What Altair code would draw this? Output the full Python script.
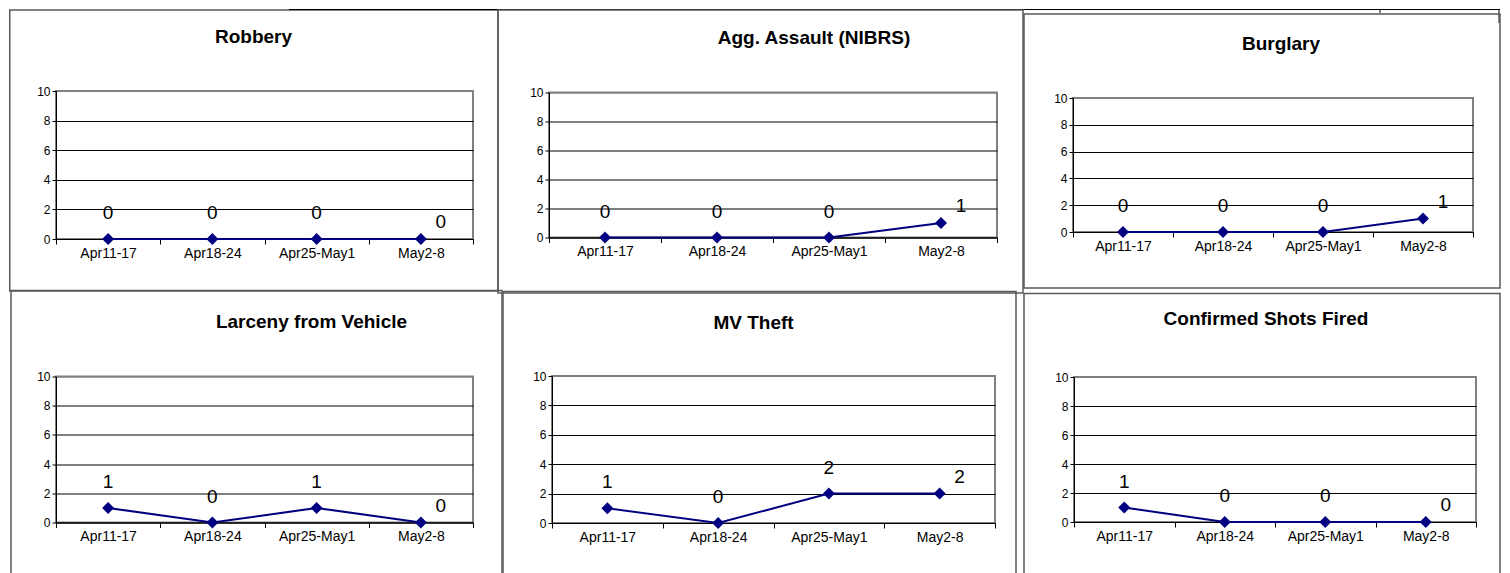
import altair as alt
import pandas as pd

# ---------------- data ----------------
weeks = ["Apr11-17", "Apr18-24", "Apr25-May1", "May2-8"]
robbery = [0, 0, 0, 0]
agg_assault = [0, 0, 0, 1]
burglary = [0, 0, 0, 1]
larceny_vehicle = [1, 0, 1, 0]
mv_theft = [1, 0, 2, 2]
shots_fired = [1, 0, 0, 0]

titles = ["Robbery", "Agg. Assault (NIBRS)", "Burglary",
          "Larceny from Vehicle", "MV Theft", "Confirmed Shots Fired"]
series = [robbery, agg_assault, burglary, larceny_vehicle, mv_theft, shots_fired]
y_ticks = [0, 2, 4, 6, 8, 10]

# ---------------- layout / style ----------------
FONT = "Liberation Sans"
NAVY = "#000080"
# w, h: plot size; tdx/ty: title position; box: frame edges relative to plot (left, right-extra, top, bottom-extra)
layout = [
    dict(w=417, h=148, tdx=-11, ty=-54, box=(-46.25, 25, -81, 52)),
    dict(w=448, h=145, tdx=41, ty=-54.5, box=(-51, 26, -82.5, 55.5)),
    dict(w=400, h=134, tdx=8, ty=-54, box=(-49, 27, -84, 56)),
    dict(w=417, h=146, tdx=47, ty=-55, box=(-45, 29, -86, 200)),
    dict(w=443, h=147, tdx=-20, ty=-53.5, box=(-49, 21, -84.5, 200)),
    dict(w=402, h=145, tdx=-9, ty=-58.5, box=(-50, 24, -83.5, 200)),
]
# fragment of a table above the charts (page pixels), drawn relative to first plot origin
ORIGIN = (55, 90)
table_h = dict(x1=288, x2=1499, y=8.5)
table_ticks = [(1379, 12), (1498, 22)]

one = pd.DataFrame({"k": [0]})


def decorations():
    ox, oy = ORIGIN
    layers = [alt.Chart(one).mark_rule(color="black", strokeWidth=1).encode(
        x=alt.value(table_h["x1"] - ox), x2=alt.value(table_h["x2"] - ox),
        y=alt.value(table_h["y"] - oy))]
    for xv, yb in table_ticks:
        layers.append(alt.Chart(one).mark_rule(color="black", strokeWidth=1).encode(
            x=alt.value(xv - ox), y=alt.value(table_h["y"] - oy), y2=alt.value(yb - oy)))
    return layers


def panel(i):
    L = layout[i]
    df = pd.DataFrame({"week": weeks, "count": series[i], "order": list(range(len(weeks)))})
    x = alt.X("week:N", sort=weeks, bandPosition=0.5,
              scale=alt.Scale(type="band", paddingInner=0, paddingOuter=0),
              axis=alt.Axis(title=None, labelAngle=0, tickBand="extent", tickSize=5,
                            labelFontSize=14, labelPadding=2, grid=False,
                            domainColor="black", tickColor="black", labelColor="black",
                            labelFont=FONT))
    y = alt.Y("count:Q", scale=alt.Scale(domain=[0, 10], nice=False),
              axis=alt.Axis(title=None, values=y_ticks, tickSize=4, labelFontSize=12,
                            labelPadding=2, domainColor="black", tickColor="black",
                            labelColor="black", labelFont=FONT,
                            gridColor=alt.condition("datum.value == 10",
                                                    alt.value("#808080"), alt.value("black")),
                            gridWidth=1))
    base = alt.Chart(df).encode(x=x, y=y)
    line = base.mark_line(color=NAVY, strokeWidth=2)
    pts = base.mark_point(shape="diamond", filled=True, size=144, color=NAVY, opacity=1)
    lab1 = base.transform_filter(alt.datum.order < 3).mark_text(
        dy=-26, fontSize=19, font=FONT, color="black", baseline="middle").encode(text="count:Q")
    lab2 = base.transform_filter(alt.datum.order == 3).mark_text(
        dx=20, dy=-17, fontSize=19, font=FONT, color="black", baseline="middle").encode(text="count:Q")
    bl, br, bt, bb = L["box"]
    frame = alt.Chart(one).mark_rect(fillOpacity=0, stroke="#5a5a5a", strokeWidth=1.5).encode(
        x=alt.value(bl), x2=alt.value(L["w"] + br),
        y=alt.value(bt), y2=alt.value(L["h"] + bb))
    title = alt.Chart(one).mark_text(
        text=titles[i], fontSize=19, font=FONT, fontWeight="bold", color="black",
        align="center", baseline="middle").encode(
        x=alt.value(L["w"] / 2 + L["tdx"]), y=alt.value(L["ty"]))
    layers = [frame]
    if i == 0:
        layers += decorations()
    layers += [title, line, pts, lab1, lab2]
    return alt.layer(*layers).properties(width=L["w"], height=L["h"])


row1 = alt.hconcat(panel(0), panel(1), panel(2), spacing=76, bounds="flush", center=True)
row2 = alt.hconcat(panel(3), panel(4), panel(5), spacing=79, bounds="flush", center=True)

chart = alt.vconcat(row1, row2, spacing=285, bounds="flush").properties(
    padding=0,
    background="white",
).configure_view(stroke="#808080", strokeWidth=2)

chart.save("out.html", embed_options={"renderer": "svg", "actions": False})
